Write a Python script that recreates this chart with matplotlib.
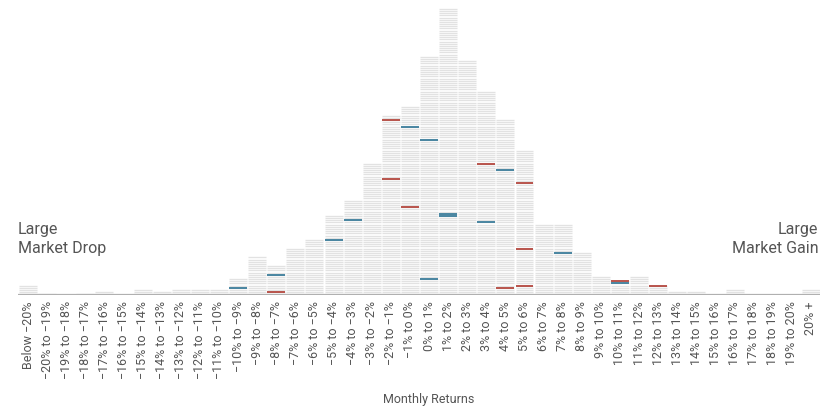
import numpy as np
import matplotlib.pyplot as plt

# bins of monthly return, number of months in each
bins = ["Below \u221220%"] + [f"\u2212{a}% to \u2212{a - 1}%" if a > 1 else "\u22121% to 0%"
                              for a in range(20, 0, -1)] \
       + [f"{a}% to {a + 1}%" for a in range(0, 20)] + ["20% +"]
counts = [5, 1, 0, 1, 2, 0, 3, 2, 3, 3, 3, 8, 18, 14, 22, 26, 37, 44, 61, 83, 87,
          110, 132, 108, 94, 81, 67, 33, 33, 20, 9, 7, 9, 5, 2, 2, 0, 3, 0, 0, 0, 3]

# highlighted months: bin index and rank of the month inside the stack
red_bins = [13, 19, 19, 20, 24, 25, 26, 26, 26, 31, 33]
red_rank = [2, 81, 54, 41, 61, 4, 52, 22, 5, 7, 5]
blue_bins = [11, 13, 16, 17, 20, 21, 21, 22, 22, 24, 25, 28, 31]
blue_rank = [4, 10, 26, 35, 78, 72, 8, 37, 38, 34, 58, 20, 6]

GREY = "#e2e2e2"
RED = "#b4473f"
BLUE = "#3b7d9b"
TXT = "#555555"
FONT = ["Liberation Sans Narrow", "Roboto", "DejaVu Sans"]
plt.rcParams["font.family"] = FONT

fig = plt.figure(figsize=(8.35, 4.12), dpi=100)
ax = fig.add_axes([0.0221, 0.2828, 0.9605, 0.7143])

x = np.arange(len(bins))
half = 0.47
ys, xs = [], []
for i, n in enumerate(counts):
    for k in range(n):
        ys.append(k + 0.5)
        xs.append(i)
xs = np.array(xs)
# one thin grey line per month
ax.hlines(ys, xs - half, xs + half, color=GREY, lw=0.95)

rb = np.array(red_bins)
ax.hlines(np.array(red_rank) - 0.5, rb - half, rb + half, color=RED, lw=1.3)
bb = np.array(blue_bins)
ax.hlines(np.array(blue_rank) - 0.5, bb - half, bb + half, color=BLUE, lw=1.3)

ax.axhline(0, color="#b0b0b0", lw=1.6)

ax.set_xlim(-0.5, len(bins) - 0.5)
ax.set_ylim(0, 135)
ax.set_xticks(x)
ax.set_xticklabels(bins, rotation=90, fontsize=9, color=TXT)
ax.tick_params(axis="x", length=0, pad=4)
ax.set_yticks([])
for s in ax.spines.values():
    s.set_visible(False)

fig.text(0.5135, 0.03, "Monthly Returns", ha="center", va="center", fontsize=9, color=TXT)
fig.text(0.021, 0.42, "Large\nMarket Drop", ha="left", va="center", fontsize=11.5,
         color=TXT, linespacing=1.4)
fig.text(0.98, 0.42, "Large\nMarket Gain", ha="right", va="center", fontsize=11.5,
         color=TXT, linespacing=1.4)

fig.savefig("out.png", dpi=100)
